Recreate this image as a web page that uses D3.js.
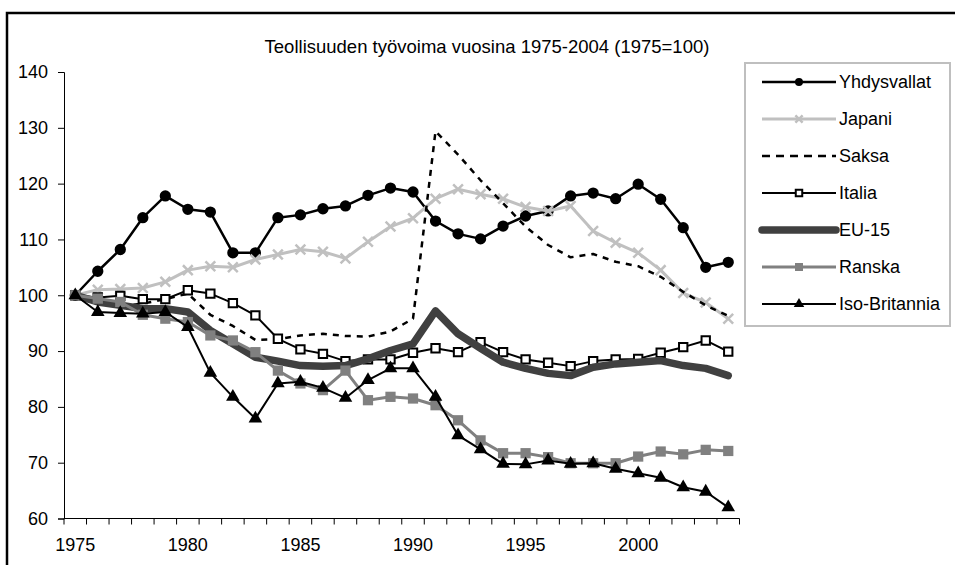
<!DOCTYPE html>
<html>
<head>
<meta charset="utf-8">
<script src="https://cdn.jsdelivr.net/npm/d3@7"></script>
<style>
  body { margin: 0; background: #fff; }
  svg text { font-family: "Liberation Sans", Arial, sans-serif; fill: #000; }
</style>
</head>
<body>
<div id="chart"></div>
<script>
// categories and tick labels
var years = [1975, 1976, 1977, 1978, 1979, 1980, 1981, 1982, 1983, 1984,
  1985, 1986, 1987, 1988, 1989, 1990, 1991, 1992, 1993, 1994,
  1995, 1996, 1997, 1998, 1999, 2000, 2001, 2002, 2003, 2004];
var yearLabels = [1975, 1980, 1985, 1990, 1995, 2000];
var yTicks = [60, 70, 80, 90, 100, 110, 120, 130, 140];
var seriesNames = ["Yhdysvallat", "Japani", "Saksa", "Italia", "EU-15", "Ranska", "Iso-Britannia"];

// series values (1975=100)
var usa = [100, 104.3, 108.2, 113.9, 117.8, 115.4, 114.9, 107.6, 107.6, 113.9,
  114.4, 115.5, 116.0, 117.9, 119.2, 118.5, 113.3, 111.0, 110.1, 112.4,
  114.2, 115.1, 117.8, 118.3, 117.3, 119.9, 117.2, 112.1, 105.0, 105.9];
var japan = [100, 101.0, 101.1, 101.3, 102.4, 104.5, 105.2, 105.0, 106.4, 107.3,
  108.2, 107.8, 106.6, 109.6, 112.3, 113.8, 117.3, 119.0, 118.1, 117.3,
  115.8, 115.1, 116.0, 111.5, 109.4, 107.6, 104.5, 100.4, 98.7, 95.8];
var germany = [100, 98.5, 98.0, 98.5, 99.3, 100.3, 96.5, 94.5, 92.0, 92.1,
  92.8, 93.1, 92.7, 92.6, 93.5, 95.8, 129.4, 125.2, 120.6, 116.5,
  112.3, 109.0, 106.8, 107.4, 106.0, 105.2, 103.3, 100.6, 98.2, 96.3];
var italy = [100, 99.6, 99.9, 99.3, 99.3, 100.9, 100.3, 98.6, 96.4, 92.2,
  90.3, 89.5, 88.2, 88.5, 88.5, 89.7, 90.5, 89.8, 91.6, 89.8,
  88.5, 87.9, 87.3, 88.2, 88.5, 88.6, 89.7, 90.7, 91.9, 89.9];
var eu15 = [100, 98.8, 98.2, 97.6, 97.6, 97.0, 93.7, 91.3, 88.9, 88.2,
  87.4, 87.3, 87.4, 88.6, 90.1, 91.3, 97.2, 93.1, 90.5, 88.0,
  86.9, 86.0, 85.6, 87.1, 87.7, 88.0, 88.3, 87.4, 86.9, 85.6];
var france = [100, 99.4, 98.8, 96.5, 95.8, 95.2, 92.8, 91.9, 89.8, 86.5,
  84.2, 83.0, 86.5, 81.2, 81.8, 81.5, 80.3, 77.6, 74.0, 71.7,
  71.7, 71.0, 69.9, 69.9, 69.9, 71.1, 72.0, 71.5, 72.3, 72.1];
var uk = [100, 97.0, 96.8, 96.7, 97.0, 94.3, 86.1, 81.8, 77.9, 84.2,
  84.5, 83.4, 81.6, 84.8, 86.9, 86.9, 81.8, 74.9, 72.4, 69.8,
  69.7, 70.4, 69.8, 69.9, 68.9, 68.1, 67.3, 65.6, 64.8, 62.0];

var svgWidth = 955;
var svgHeight = 565;

var plot = { left: 64, right: 739.5, top: 72, bottom: 518.5 };

// styles for each series, in drawing order
var styles = [
  { values: usa, color: "#000", width: 2.5, dash: null, symbol: d3.symbolCircle, size: 100, fill: "#000", stroke: "none", lsize: 50 },
  { values: japan, color: "#c0c0c0", width: 3, dash: null, symbol: d3.symbolTimes, size: 64, fill: "none", stroke: "#c0c0c0", sw: 2.5, lsize: 36 },
  { values: germany, color: "#000", width: 2.5, dash: "6,6", symbol: null },
  { values: italy, color: "#000", width: 2, dash: null, symbol: d3.symbolSquare, size: 70, fill: "#fff", stroke: "#000", sw: 2, lsize: 42 },
  { values: eu15, color: "#404040", width: 7.5, dash: null, symbol: null },
  { values: france, color: "#808080", width: 3, dash: null, symbol: d3.symbolSquare, size: 105, fill: "#808080", stroke: "none", lsize: 64 },
  { values: uk, color: "#000", width: 2, dash: null, symbol: d3.symbolTriangle, size: 80, fill: "#000", stroke: "none", lsize: 48 }
];

var svg = d3.select("#chart")
  .append("svg")
  .attr("width", svgWidth)
  .attr("height", svgHeight);

// outer frame (right and bottom edges fall outside the picture)
svg.append("rect")
  .attr("x", 7)
  .attr("y", 13)
  .attr("width", 1000)
  .attr("height", 600)
  .attr("fill", "#fff")
  .attr("stroke", "#000")
  .attr("stroke-width", 2.5);

// scales
var xBand = d3.scaleBand()
  .domain(years)
  .range([plot.left, plot.right]);

var x = function(year) { return xBand(year) + xBand.bandwidth() / 2; };

var y = d3.scaleLinear()
  .domain([60, 140])
  .range([plot.bottom, plot.top]);

// title
svg.append("text")
  .attr("x", 487)
  .attr("y", 48)
  .attr("text-anchor", "middle")
  .attr("dominant-baseline", "middle")
  .style("font-size", "18.5px")
  .text("Teollisuuden työvoima vuosina 1975-2004 (1975=100)");

// y axis
var leftAxis = d3.axisLeft(y)
  .tickValues(yTicks)
  .tickSize(6)
  .tickPadding(10);

var yAxis = svg.append("g")
  .attr("transform", `translate(${plot.left}, 0)`)
  .call(leftAxis);

yAxis.select(".domain").attr("stroke", "#000");
yAxis.selectAll("text")
  .style("font-size", "18px")
  .attr("font-family", null);

// x axis: labels centred on categories, ticks on category borders
var bottomAxis = d3.axisBottom(xBand)
  .tickValues(yearLabels)
  .tickSize(0)
  .tickPadding(20);

var xAxis = svg.append("g")
  .attr("transform", `translate(0, ${plot.bottom})`)
  .call(bottomAxis);

xAxis.select(".domain").remove();
xAxis.selectAll("text")
  .style("font-size", "18px")
  .attr("font-family", null);

var borders = years.map(d => xBand(d)).concat([plot.right]);

svg.append("g")
  .selectAll("line")
  .data(borders)
  .enter()
  .append("line")
  .attr("x1", d => d)
  .attr("x2", d => d)
  .attr("y1", plot.bottom)
  .attr("y2", plot.bottom + 6)
  .attr("stroke", "#000");

svg.append("line")
  .attr("x1", plot.left)
  .attr("x2", plot.right)
  .attr("y1", plot.bottom)
  .attr("y2", plot.bottom)
  .attr("stroke", "#000");

// series lines and markers
var line = d3.line()
  .x((d, i) => x(years[i]))
  .y(d => y(d));

styles.forEach(function(s) {
  var g = svg.append("g");

  g.append("path")
    .datum(s.values)
    .attr("d", line)
    .attr("fill", "none")
    .attr("stroke", s.color)
    .attr("stroke-width", s.width)
    .attr("stroke-dasharray", s.dash)
    .attr("stroke-linejoin", "round")
    .attr("stroke-linecap", s.width > 5 ? "round" : "butt");

  if (s.symbol) {
    g.selectAll("path.marker")
      .data(s.values)
      .enter()
      .append("path")
      .attr("class", "marker")
      .attr("transform", (d, i) => `translate(${x(years[i])}, ${y(d)})`)
      .attr("d", d3.symbol(s.symbol, s.size))
      .attr("fill", s.fill)
      .attr("stroke", s.stroke)
      .attr("stroke-width", s.sw || 0);
  }
});

// legend
var legend = svg.append("g");

legend.append("rect")
  .attr("x", 745)
  .attr("y", 63)
  .attr("width", 205)
  .attr("height", 263)
  .attr("fill", "#fff")
  .attr("stroke", "#bfbfbf")
  .attr("stroke-width", 2);

var legendY = d3.scalePoint()
  .domain(seriesNames)
  .range([82, 304]);

var items = legend.selectAll("g.item")
  .data(styles)
  .enter()
  .append("g")
  .attr("class", "item")
  .attr("transform", (d, i) => `translate(0, ${legendY(seriesNames[i])})`);

items.append("line")
  .attr("x1", 762)
  .attr("x2", 836)
  .attr("stroke", d => d.color)
  .attr("stroke-width", d => d.width)
  .attr("stroke-dasharray", d => d.dash ? "8,6" : null)
  .attr("stroke-linecap", d => d.width > 5 ? "round" : "butt");

items.filter(d => d.symbol)
  .append("path")
  .attr("transform", "translate(799, 0)")
  .attr("d", d => d3.symbol(d.symbol, d.lsize)())
  .attr("fill", d => d.fill)
  .attr("stroke", d => d.stroke)
  .attr("stroke-width", d => d.sw || 0);

items.append("text")
  .attr("x", 839)
  .attr("dy", "0.35em")
  .style("font-size", "18px")
  .text((d, i) => seriesNames[i]);
</script>
</body>
</html>
